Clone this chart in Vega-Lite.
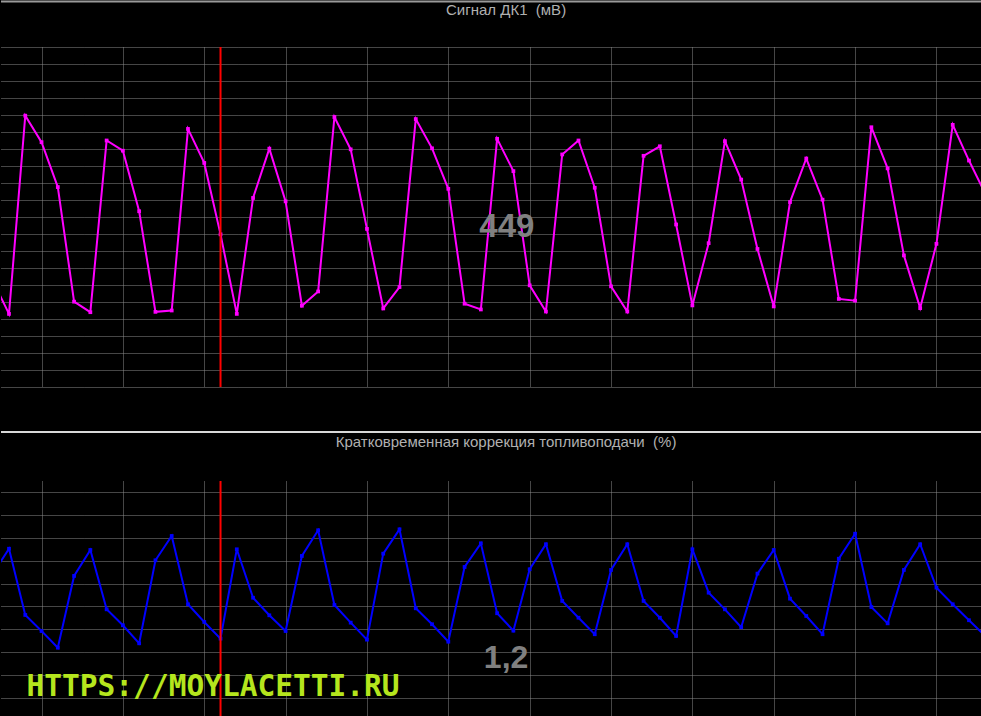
{
  "$schema": "https://vega.github.io/schema/vega-lite/v6.json",
  "background": "#000000",
  "padding": 0,
  "autosize": {"type": "pad"},
  "spacing": 42,
  "config": {
    "view": {"stroke": null},
    "axis": {"labels": false, "ticks": false, "domain": false, "minExtent": 0, "maxExtent": 0, "offset": 0, "grid": true, "gridColor": "#8c8c8c", "gridDash": [1, 1], "gridWidth": 1, "gridOpacity": 1}
  },
  "datasets": {
    "dk1": [
      {"i": -1, "mv": 313}, {"i": 0, "mv": 215}, {"i": 1, "mv": 798}, {"i": 2, "mv": 720}, {"i": 3, "mv": 588},
      {"i": 4, "mv": 251}, {"i": 5, "mv": 220}, {"i": 6, "mv": 725}, {"i": 7, "mv": 695}, {"i": 8, "mv": 517},
      {"i": 9, "mv": 221}, {"i": 10, "mv": 225}, {"i": 11, "mv": 759}, {"i": 12, "mv": 659}, {"i": 13, "mv": 449},
      {"i": 14, "mv": 215}, {"i": 15, "mv": 556}, {"i": 16, "mv": 701}, {"i": 17, "mv": 546}, {"i": 18, "mv": 239},
      {"i": 19, "mv": 281}, {"i": 20, "mv": 794}, {"i": 21, "mv": 699}, {"i": 22, "mv": 465}, {"i": 23, "mv": 231},
      {"i": 24, "mv": 294}, {"i": 25, "mv": 788}, {"i": 26, "mv": 702}, {"i": 27, "mv": 583}, {"i": 28, "mv": 245},
      {"i": 29, "mv": 228}, {"i": 30, "mv": 730}, {"i": 31, "mv": 635}, {"i": 32, "mv": 299}, {"i": 33, "mv": 222},
      {"i": 34, "mv": 684}, {"i": 35, "mv": 725}, {"i": 36, "mv": 586}, {"i": 37, "mv": 296}, {"i": 38, "mv": 222},
      {"i": 39, "mv": 680}, {"i": 40, "mv": 708}, {"i": 41, "mv": 478}, {"i": 42, "mv": 240}, {"i": 43, "mv": 423},
      {"i": 44, "mv": 723}, {"i": 45, "mv": 610}, {"i": 46, "mv": 406}, {"i": 47, "mv": 237}, {"i": 48, "mv": 544},
      {"i": 49, "mv": 672}, {"i": 50, "mv": 551}, {"i": 51, "mv": 259}, {"i": 52, "mv": 254}, {"i": 53, "mv": 764},
      {"i": 54, "mv": 643}, {"i": 55, "mv": 387}, {"i": 56, "mv": 232}, {"i": 57, "mv": 421}, {"i": 58, "mv": 771},
      {"i": 59, "mv": 666}, {"i": 60, "mv": 569}
    ],
    "stft": [
      {"i": -1, "pct": 6.83}, {"i": 0, "pct": 9.03}, {"i": 1, "pct": 3.26}, {"i": 2, "pct": 1.86}, {"i": 3, "pct": 0.41},
      {"i": 4, "pct": 6.66}, {"i": 5, "pct": 8.92}, {"i": 6, "pct": 3.75}, {"i": 7, "pct": 2.36}, {"i": 8, "pct": 0.79},
      {"i": 9, "pct": 8.02}, {"i": 10, "pct": 10.14}, {"i": 11, "pct": 4.19}, {"i": 12, "pct": 2.65}, {"i": 13, "pct": 1.2},
      {"i": 14, "pct": 8.98}, {"i": 15, "pct": 4.76}, {"i": 16, "pct": 3.23}, {"i": 17, "pct": 1.86}, {"i": 18, "pct": 8.4},
      {"i": 19, "pct": 10.64}, {"i": 20, "pct": 4.13}, {"i": 21, "pct": 2.59}, {"i": 22, "pct": 1.11}, {"i": 23, "pct": 8.6},
      {"i": 24, "pct": 10.72}, {"i": 25, "pct": 3.84}, {"i": 26, "pct": 2.45}, {"i": 27, "pct": 0.93}, {"i": 28, "pct": 7.44},
      {"i": 29, "pct": 9.5}, {"i": 30, "pct": 3.41}, {"i": 31, "pct": 1.89}, {"i": 32, "pct": 7.24}, {"i": 33, "pct": 9.42},
      {"i": 34, "pct": 4.48}, {"i": 35, "pct": 3.02}, {"i": 36, "pct": 1.58}, {"i": 37, "pct": 7.18}, {"i": 38, "pct": 9.42},
      {"i": 39, "pct": 4.48}, {"i": 40, "pct": 3.02}, {"i": 41, "pct": 1.43}, {"i": 42, "pct": 8.98}, {"i": 43, "pct": 5.2},
      {"i": 44, "pct": 3.75}, {"i": 45, "pct": 2.19}, {"i": 46, "pct": 6.86}, {"i": 47, "pct": 8.92}, {"i": 48, "pct": 4.68},
      {"i": 49, "pct": 3.17}, {"i": 50, "pct": 1.58}, {"i": 51, "pct": 8.16}, {"i": 52, "pct": 10.34}, {"i": 53, "pct": 3.95},
      {"i": 54, "pct": 2.53}, {"i": 55, "pct": 7.18}, {"i": 56, "pct": 9.42}, {"i": 57, "pct": 5.64}, {"i": 58, "pct": 4.19},
      {"i": 59, "pct": 2.8}, {"i": 60, "pct": 1.43}
    ],
    "cursor": [{"i": 13}],
    "toplabel": [{"i": 30.6, "mv": 472, "label": "449"}],
    "toptitle": [{"i": 30.55, "mv": 1109, "label": "Сигнал ДК1\u00a0 (мВ)"}],
    "bottitle": [{"i": 30.55, "pct": 18.3, "label": "Кратковременная коррекция топливоподачи\u00a0 (%)"}],
    "botlabel": [{"i": 30.55, "pct": -0.45, "label": "1,2"}],
    "mark": [{"i": 12.54, "pct": -3.05, "label": "HTTPS://MOYLACETTI.RU"}],
    "one": [{}]
  },
  "vconcat": [
    {
      "width": 981,
      "height": 340,
      "layer": [
        {
          "data": {"name": "dk1"},
          "mark": {"type": "line", "color": "#ff00ff", "strokeWidth": 2, "clip": true,
                   "point": {"shape": "square", "size": 14, "filled": true, "color": "#ff00ff"}},
          "encoding": {
            "x": {"field": "i", "type": "quantitative",
                  "scale": {"domain": [-0.4917, 59.8], "nice": false, "zero": false},
                  "axis": {"title": null, "values": [2, 7, 12, 17, 22, 27, 32, 37, 42, 47, 52, 57]}},
            "y": {"field": "mv", "type": "quantitative",
                  "scale": {"domain": [0, 1000], "nice": false, "zero": false},
                  "axis": {"title": null, "values": [0, 50, 100, 150, 200, 250, 300, 350, 400, 450, 500, 550, 600, 650, 700, 750, 800, 850, 900, 950, 1000]}}
          }
        },
        {
          "data": {"name": "cursor"},
          "mark": {"type": "rule", "color": "#ff0000", "strokeWidth": 2},
          "encoding": {"x": {"field": "i", "type": "quantitative",
                  "axis": {"title": null, "values": [2, 7, 12, 17, 22, 27, 32, 37, 42, 47, 52, 57]}}}
        },
        {
          "data": {"name": "toplabel"},
          "mark": {"type": "text", "font": "Liberation Sans", "fontSize": 33, "fontWeight": "bold", "color": "#808080", "align": "center", "baseline": "middle"},
          "encoding": {
            "x": {"field": "i", "type": "quantitative",
                  "axis": {"title": null, "values": [2, 7, 12, 17, 22, 27, 32, 37, 42, 47, 52, 57]}},
            "y": {"field": "mv", "type": "quantitative",
                  "axis": {"title": null, "values": [0, 50, 100, 150, 200, 250, 300, 350, 400, 450, 500, 550, 600, 650, 700, 750, 800, 850, 900, 950, 1000]}},
            "text": {"field": "label"}
          }
        },
        {
          "data": {"name": "toptitle"},
          "mark": {"type": "text", "font": "Liberation Sans", "fontSize": 15, "color": "#b0b0b0", "align": "center", "baseline": "middle", "clip": false},
          "encoding": {
            "x": {"field": "i", "type": "quantitative",
                  "axis": {"title": null, "values": [2, 7, 12, 17, 22, 27, 32, 37, 42, 47, 52, 57]}},
            "y": {"field": "mv", "type": "quantitative",
                  "axis": {"title": null, "values": [0, 50, 100, 150, 200, 250, 300, 350, 400, 450, 500, 550, 600, 650, 700, 750, 800, 850, 900, 950, 1000]}},
            "text": {"field": "label"}
          }
        },
        {
          "data": {"name": "one"},
          "mark": {"type": "rule", "color": "#9a9a9a", "strokeWidth": 2, "clip": false},
          "encoding": {"y": {"datum": 1133.8, "type": "quantitative",
                  "axis": {"title": null, "values": [0, 50, 100, 150, 200, 250, 300, 350, 400, 450, 500, 550, 600, 650, 700, 750, 800, 850, 900, 950, 1000]}}}
        }
      ]
    },
    {
      "width": 981,
      "height": 236,
      "layer": [
        {
          "data": {"name": "stft"},
          "mark": {"type": "line", "color": "#0000ff", "strokeWidth": 2, "clip": true,
                   "point": {"shape": "square", "size": 14, "filled": true, "color": "#0000ff"}},
          "encoding": {
            "x": {"field": "i", "type": "quantitative",
                  "scale": {"domain": [-0.4917, 59.8], "nice": false, "zero": false},
                  "axis": {"title": null, "values": [2, 7, 12, 17, 22, 27, 32, 37, 42, 47, 52, 57]}},
            "y": {"field": "pct", "type": "quantitative",
                  "scale": {"domain": [-5.63, 14.93], "nice": false, "zero": false},
                  "axis": {"title": null, "values": [-4, -2, 0, 2, 4, 6, 8, 10, 12, 14]}}
          }
        },
        {
          "data": {"name": "cursor"},
          "mark": {"type": "rule", "color": "#ff0000", "strokeWidth": 2},
          "encoding": {"x": {"field": "i", "type": "quantitative",
                  "axis": {"title": null, "values": [2, 7, 12, 17, 22, 27, 32, 37, 42, 47, 52, 57]}}}
        },
        {
          "data": {"name": "botlabel"},
          "mark": {"type": "text", "font": "Liberation Sans", "fontSize": 32, "fontWeight": "bold", "color": "#808080", "align": "center", "baseline": "middle"},
          "encoding": {
            "x": {"field": "i", "type": "quantitative",
                  "axis": {"title": null, "values": [2, 7, 12, 17, 22, 27, 32, 37, 42, 47, 52, 57]}},
            "y": {"field": "pct", "type": "quantitative",
                  "axis": {"title": null, "values": [-4, -2, 0, 2, 4, 6, 8, 10, 12, 14]}},
            "text": {"field": "label"}
          }
        },
        {
          "data": {"name": "mark"},
          "mark": {"type": "text", "font": "DejaVu Sans Mono", "fontSize": 29.5, "fontWeight": "bold", "color": "#b5e61d", "align": "center", "baseline": "middle"},
          "encoding": {
            "x": {"field": "i", "type": "quantitative",
                  "axis": {"title": null, "values": [2, 7, 12, 17, 22, 27, 32, 37, 42, 47, 52, 57]}},
            "y": {"field": "pct", "type": "quantitative",
                  "axis": {"title": null, "values": [-4, -2, 0, 2, 4, 6, 8, 10, 12, 14]}},
            "text": {"field": "label"}
          }
        },
        {
          "data": {"name": "bottitle"},
          "mark": {"type": "text", "font": "Liberation Sans", "fontSize": 15, "color": "#b0b0b0", "align": "center", "baseline": "middle", "clip": false},
          "encoding": {
            "x": {"field": "i", "type": "quantitative",
                  "axis": {"title": null, "values": [2, 7, 12, 17, 22, 27, 32, 37, 42, 47, 52, 57]}},
            "y": {"field": "pct", "type": "quantitative",
                  "axis": {"title": null, "values": [-4, -2, 0, 2, 4, 6, 8, 10, 12, 14]}},
            "text": {"field": "label"}
          }
        },
        {
          "data": {"name": "one"},
          "mark": {"type": "rule", "color": "#d8d8d8", "strokeWidth": 2, "clip": false},
          "encoding": {"y": {"datum": 19.2, "type": "quantitative",
                  "axis": {"title": null, "values": [-4, -2, 0, 2, 4, 6, 8, 10, 12, 14]}}}
        }
      ]
    }
  ]
}
